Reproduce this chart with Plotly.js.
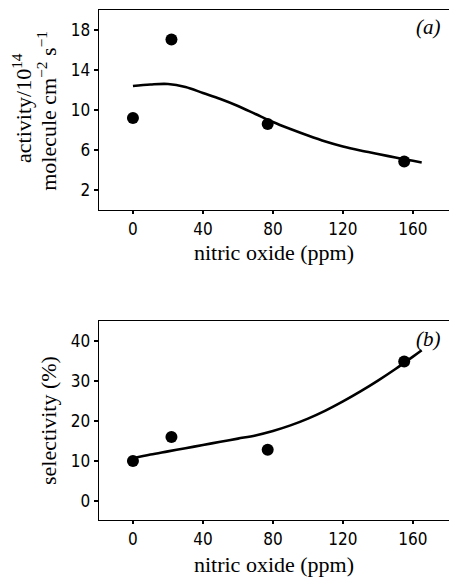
<!DOCTYPE html>
<html>
<head>
<meta charset="utf-8">
<script src="https://cdn.plot.ly/plotly-3.0.1.min.js"></script>
<style>html,body{margin:0;padding:0;background:#fff;}#chart{width:449px;height:578px;}</style>
</head>
<body>
<div id="chart"></div>
<script>
// Panel (a): activity
const ptsNO_a = [0, 22, 77, 155];
const ptsActivity = [9.2, 17.05, 8.6, 4.85];
const curveNO_a = [0, 10, 20, 30, 40, 50, 60, 70, 80, 90, 100, 110, 120, 130, 140, 150, 160, 165];
const curveActivity = [12.4, 12.55, 12.6, 12.3, 11.7, 11.1, 10.4, 9.6, 8.8, 8.1, 7.45, 6.85, 6.35, 5.95, 5.6, 5.25, 4.92, 4.75];

// Panel (b): selectivity
const ptsNO_b = [0, 22, 77, 155];
const ptsSelectivity = [10, 16, 12.8, 34.9];
const curveNO_b = [0, 10, 20, 30, 40, 50, 60, 70, 80, 90, 100, 110, 120, 130, 140, 150, 160, 165];
const curveSelectivity = [10.7, 11.6, 12.4, 13.2, 14.0, 14.8, 15.6, 16.4, 17.5, 18.9, 20.6, 22.6, 24.9, 27.4, 30.1, 33.0, 36.1, 37.7];

const xTicks = [0, 40, 80, 120, 160];
const yTicksA = [2, 6, 10, 14, 18];
const yTicksB = [0, 10, 20, 30, 40];

const serif = '"Liberation Serif", "DejaVu Serif", serif';
const narrow = '"Liberation Sans Narrow", "DejaVu Sans Condensed", "Liberation Sans", sans-serif';

const lineStyle = {color: '#000', width: 2.6, shape: 'spline', smoothing: 1};
const markerStyle = {color: '#000', size: 12};

const traces = [
  {x: curveNO_a, y: curveActivity, mode: 'lines', line: lineStyle, xaxis: 'x', yaxis: 'y', hoverinfo: 'skip'},
  {x: ptsNO_a, y: ptsActivity, mode: 'markers', marker: markerStyle, xaxis: 'x', yaxis: 'y'},
  {x: curveNO_b, y: curveSelectivity, mode: 'lines', line: lineStyle, xaxis: 'x2', yaxis: 'y2', hoverinfo: 'skip'},
  {x: ptsNO_b, y: ptsSelectivity, mode: 'markers', marker: markerStyle, xaxis: 'x2', yaxis: 'y2'}
];

const titleFont = {family: serif, size: 22, color: '#000'};

const xCommon = {
  range: [-19.4, 180.6], tickvals: xTicks, ticktext: xTicks.map(String),
  showgrid: false, zeroline: false, showline: true, linecolor: '#000', linewidth: 1.3,
  mirror: true, ticks: 'outside', ticklen: 3, tickwidth: 1.2, tickcolor: '#000',
  tickfont: {family: narrow, size: 17, color: '#000'}
};
const yCommon = {
  showgrid: false, zeroline: false, showline: true, linecolor: '#000', linewidth: 1.3,
  ticks: 'outside', ticklen: 4, tickwidth: 1.2, tickcolor: '#000',
  tickfont: {family: narrow, size: 17, color: '#000'}
};

const layout = {
  width: 449, height: 578,
  margin: {l: 99, r: 0, t: 10, b: 58},
  paper_bgcolor: '#fff', plot_bgcolor: '#fff',
  showlegend: false,
  xaxis: Object.assign({}, xCommon, {anchor: 'y', domain: [0, 1],
    title: {text: 'nitric oxide (ppm)', font: titleFont, standoff: 7}}),
  yaxis: Object.assign({}, yCommon, {
    domain: [0.6078, 1], range: [0, 20], tickvals: yTicksA, ticktext: yTicksA.map(String), anchor: 'x'
  }),
  xaxis2: Object.assign({}, xCommon, {anchor: 'y2', domain: [0, 1],
    title: {text: 'nitric oxide (ppm)', font: titleFont, standoff: 9}}),
  yaxis2: Object.assign({}, yCommon, {
    domain: [0, 0.3902], range: [-4.75, 45], tickvals: yTicksB, ticktext: yTicksB.map(String), anchor: 'x2',
    title: {text: 'selectivity (%)', font: titleFont, standoff: 8}
  }),
  annotations: [
    {text: 'activity/10<sup>14</sup>', xref: 'paper', yref: 'paper', x: -0.22, y: 0.808,
     textangle: -90, showarrow: false, xanchor: 'center', yanchor: 'middle', font: titleFont},
    {text: 'molecule cm<sup>\u22122</sup> s<sup>\u22121</sup>', xref: 'paper', yref: 'paper', x: -0.149, y: 0.802,
     textangle: -90, showarrow: false, xanchor: 'center', yanchor: 'middle', font: titleFont},
    {text: '<i>(a)</i>', xref: 'x', yref: 'y', x: 177, y: 18.3, showarrow: false, xanchor: 'right',
     font: {family: serif, size: 21, color: '#000'}},
    {text: '<i>(b)</i>', xref: 'x2', yref: 'y2', x: 177, y: 40.5, showarrow: false, xanchor: 'right',
     font: {family: serif, size: 21, color: '#000'}}
  ]
};

Plotly.newPlot('chart', traces, layout, {staticPlot: true, displayModeBar: false});
</script>
</body>
</html>
